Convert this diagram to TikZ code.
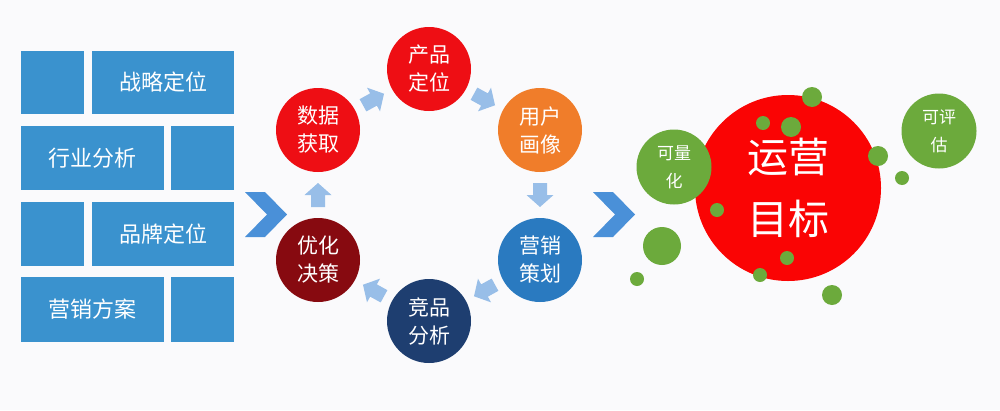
\documentclass[tikz,border=0pt]{standalone}
\usepackage{fontspec}
\newfontfamily\cjk{Noto Sans CJK SC}
\definecolor{bgc}{RGB}{250,250,252}
\definecolor{boxblue}{RGB}{58,146,206}
\definecolor{chevblue}{RGB}{74,144,216}
\definecolor{flowblue}{RGB}{152,190,232}
\definecolor{cred}{RGB}{238,14,20}
\definecolor{corange}{RGB}{240,125,42}
\definecolor{cblue}{RGB}{42,122,192}
\definecolor{cnavy}{RGB}{30,62,112}
\definecolor{cdark}{RGB}{135,10,16}
\definecolor{bigred}{RGB}{250,4,4}
\definecolor{cgreen}{RGB}{108,170,60}
\begin{document}
\begin{tikzpicture}[x=1pt,y=-1pt,
  blk/.style={fill=boxblue, draw=none, inner sep=0pt, text=white,
    font=\cjk\fontsize{22}{26}\selectfont},
  cir/.style={circle, draw=none, minimum size=84pt, inner sep=0pt, text=white,
    align=center, font=\cjk\fontsize{21}{28}\selectfont},
  barrow/.pic={\fill[flowblue] (-12,-7) -- (0,-7) -- (0,-13.5) -- (12,0) -- (0,13.5) -- (0,7) -- (-12,7) -- cycle;},
  flow/.style={sloped, allow upside down, pos=0.5},
  chev/.style={fill=chevblue, draw=none},
  bigc/.style={circle, fill=bigred, draw=none, minimum size=186pt, inner sep=0pt,
    text=white, align=center, font=\cjk\fontsize{41}{62}\selectfont},
  gc/.style={circle, fill=cgreen, draw=none, minimum size=75pt, inner sep=0pt,
    text=white, align=center, font=\cjk\fontsize{17}{28}\selectfont},
  dot/.style={circle, fill=cgreen, draw=none, inner sep=0pt}
]
\fill[bgc] (0,0) rectangle (1000,410);
\useasboundingbox (0,0) rectangle (1000,410);

% left block wall
\node[blk, minimum width=63pt, minimum height=63pt] (b1) at (52.5,82.5) {};
\node[blk, minimum width=142pt, minimum height=63pt] (b2) at (163,82.5) {战略定位};
\node[blk, minimum width=143pt, minimum height=64pt] (b3) at (92.5,158) {行业分析};
\node[blk, minimum width=63pt, minimum height=64pt] (b4) at (202.5,158) {};
\node[blk, minimum width=63pt, minimum height=64pt] (b5) at (52.5,234) {};
\node[blk, minimum width=142pt, minimum height=64pt] (b6) at (163,234) {品牌定位};
\node[blk, minimum width=143pt, minimum height=65pt] (b7) at (92.5,309.5) {营销方案};
\node[blk, minimum width=63pt, minimum height=65pt] (b8) at (202.5,309.5) {};

% chevrons
\fill[chev] (245,192) -- (265,192) -- (287,214.5) -- (265,237) -- (245,237) -- (267,214.5) -- cycle;
\fill[chev] (593,192) -- (613,192) -- (635,214.5) -- (613,237) -- (593,237) -- (615,214.5) -- cycle;

% cycle
\node[cir, fill=cred] (p1) at (429,69) {产品\\定位};
\node[cir, fill=corange] (p2) at (540,130) {用户\\画像};
\node[cir, fill=cblue] (p3) at (540,260) {营销\\策划};
\node[cir, fill=cnavy] (p4) at (429,321) {竞品\\分析};
\node[cir, fill=cdark] (p5) at (318,260) {优化\\决策};
\node[cir, fill=cred] (p6) at (318,130) {数据\\获取};

\path (p6) -- pic[flow] {barrow} (p1);
\path (p1) -- pic[flow] {barrow} (p2);
\path (p2) -- pic[flow] {barrow} (p3);
\path (p3) -- pic[flow] {barrow} (p4);
\path (p4) -- pic[flow] {barrow} (p5);
\path (p5) -- pic[flow] {barrow} (p6);

% goal
\node[bigc] (goal) at (788,188) {运营\\目标};
\node[gc] (q1) at (674,167) {可量\\化};
\node[gc] (q2) at (939,131) {可评\\估};
\node[dot, minimum size=20pt] (d1) at (812,97) {};
\node[dot, minimum size=14pt] (d2) at (763,123) {};
\node[dot, minimum size=20pt] (d3) at (791,127) {};
\node[dot, minimum size=20pt] (d4) at (878,156) {};
\node[dot, minimum size=14pt] (d5) at (902,178) {};
\node[dot, minimum size=14pt] (d6) at (717,210) {};
\node[dot, minimum size=38pt] (d7) at (662,246) {};
\node[dot, minimum size=14pt] (d8) at (637,279) {};
\node[dot, minimum size=14pt] (d9) at (760,275) {};
\node[dot, minimum size=14pt] (d10) at (787,258) {};
\node[dot, minimum size=20pt] (d11) at (832,295) {};
\end{tikzpicture}
\end{document}
